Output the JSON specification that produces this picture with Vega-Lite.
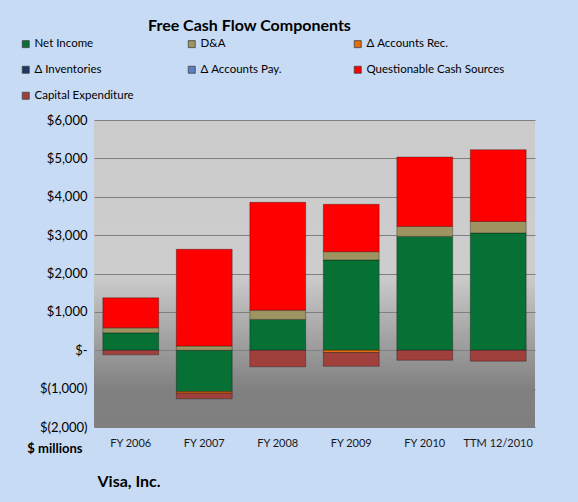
{
  "$schema": "https://vega.github.io/schema/vega-lite/v6.json",
  "autosize": {"type": "none"},
  "width": 441,
  "height": 307,
  "padding": {"left": 94, "top": 120, "right": 43, "bottom": 75},
  "background": "#c8dbf5",
  "title": {
    "text": "Free Cash Flow Components",
    "anchor": "start",
    "frame": "group",
    "dx": 54,
    "dy": 6,
    "offset": 10,
    "font": "Lato",
    "fontSize": 16,
    "fontWeight": "bold",
    "color": "#000000"
  },
  "data": {
    "values": [
      {"period": "FY 2006", "component": "Net Income", "k": 1, "value": 455},
      {"period": "FY 2006", "component": "D&A", "k": 2, "value": 130},
      {"period": "FY 2006", "component": "Questionable Cash Sources", "k": 6, "value": 780},
      {"period": "FY 2006", "component": "Capital Expenditure", "k": 7, "value": -120},
      {"period": "FY 2007", "component": "Net Income", "k": 1, "value": -1076},
      {"period": "FY 2007", "component": "D&A", "k": 2, "value": 110},
      {"period": "FY 2007", "component": "Δ Accounts Rec.", "k": 3, "value": -40},
      {"period": "FY 2007", "component": "Questionable Cash Sources", "k": 6, "value": 2520},
      {"period": "FY 2007", "component": "Capital Expenditure", "k": 7, "value": -150},
      {"period": "FY 2008", "component": "Net Income", "k": 1, "value": 804},
      {"period": "FY 2008", "component": "D&A", "k": 2, "value": 240},
      {"period": "FY 2008", "component": "Questionable Cash Sources", "k": 6, "value": 2810},
      {"period": "FY 2008", "component": "Capital Expenditure", "k": 7, "value": -432},
      {"period": "FY 2009", "component": "Net Income", "k": 1, "value": 2353},
      {"period": "FY 2009", "component": "D&A", "k": 2, "value": 215},
      {"period": "FY 2009", "component": "Δ Accounts Rec.", "k": 3, "value": -60},
      {"period": "FY 2009", "component": "Questionable Cash Sources", "k": 6, "value": 1235},
      {"period": "FY 2009", "component": "Capital Expenditure", "k": 7, "value": -357},
      {"period": "FY 2010", "component": "Net Income", "k": 1, "value": 2966},
      {"period": "FY 2010", "component": "D&A", "k": 2, "value": 262},
      {"period": "FY 2010", "component": "Questionable Cash Sources", "k": 6, "value": 1807},
      {"period": "FY 2010", "component": "Capital Expenditure", "k": 7, "value": -260},
      {"period": "TTM 12/2010", "component": "Net Income", "k": 1, "value": 3057},
      {"period": "TTM 12/2010", "component": "D&A", "k": 2, "value": 300},
      {"period": "TTM 12/2010", "component": "Questionable Cash Sources", "k": 6, "value": 1870},
      {"period": "TTM 12/2010", "component": "Capital Expenditure", "k": 7, "value": -285}
    ]
  },
  "mark": {"type": "bar", "stroke": "#000000", "strokeOpacity": 0.3, "strokeWidth": 1},
  "encoding": {
    "x": {
      "field": "period",
      "type": "nominal",
      "sort": null,
      "scale": {"paddingInner": 0.24, "paddingOuter": 0.12},
      "axis": {
        "labelAngle": 0,
        "domain": false,
        "ticks": false,
        "grid": false,
        "labelPadding": 10,
        "labelFont": "Lato",
        "labelFontSize": 11,
        "labelColor": "#1a1a1a",
        "title": "Visa, Inc.",
        "titleFont": "Lato",
        "titleFontSize": 16,
        "titleFontWeight": "bold",
        "titleColor": "#000000",
        "titleAnchor": "start",
        "titleAlign": "left",
        "titleBaseline": "middle",
        "titleX": 3,
        "titleY": 54
      }
    },
    "y": {
      "field": "value",
      "type": "quantitative",
      "stack": "zero",
      "scale": {"domain": [-2000, 6000], "nice": false},
      "axis": {
        "values": [-2000, -1000, 0, 1000, 2000, 3000, 4000, 5000, 6000],
        "labelOverlap": false,
        "labelExpr": "datum.value == 0 ? '$-' : (datum.value < 0 ? '$(' + format(-datum.value, ',') + ')' : '$' + format(datum.value, ','))",
        "domain": false,
        "ticks": false,
        "gridColor": "#7f7f7f",
        "gridWidth": 1,
        "gridOpacity": 1,
        "labelPadding": 7,
        "labelFont": "Lato",
        "labelFontSize": 13,
        "labelColor": "#000000",
        "title": "$ millions",
        "titleFont": "Lato",
        "titleFontSize": 13,
        "titleFontWeight": "bold",
        "titleColor": "#000000",
        "titleAngle": 0,
        "titleAlign": "right",
        "titleBaseline": "middle",
        "titleX": -12,
        "titleY": 328
      }
    },
    "color": {
      "field": "component",
      "type": "nominal",
      "scale": {
        "domain": ["Net Income", "D&A", "Δ Accounts Rec.", "Δ Inventories", "Δ Accounts Pay.", "Questionable Cash Sources", "Capital Expenditure"],
        "range": ["#077034", "#9d9462", "#e46c0a", "#1f3864", "#5b80c0", "#ff0000", "#a0403d"]
      },
      "legend": {
        "orient": "none",
        "legendX": -74,
        "legendY": -82,
        "direction": "horizontal",
        "columns": 3,
        "gridAlign": "all",
        "columnPadding": 13,
        "rowPadding": 13,
        "padding": 0,
        "title": null,
        "symbolType": "square",
        "symbolSize": 49,
        "symbolStrokeColor": "#404040",
        "symbolStrokeWidth": 0.8,
        "labelFont": "Lato",
        "labelFontSize": 11.5,
        "labelColor": "#000000",
        "labelOffset": 3
      }
    },
    "order": {"field": "k", "type": "quantitative"}
  },
  "config": {
    "view": {
      "fill": {
        "gradient": "linear",
        "x1": 0, "y1": 0, "x2": 0, "y2": 1,
        "stops": [
          {"offset": 0, "color": "#cbcbcb"},
          {"offset": 0.5, "color": "#cdcdcd"},
          {"offset": 0.88, "color": "#808080"},
          {"offset": 1, "color": "#7f7f7f"}
        ]
      },
      "stroke": null
    }
  }
}
